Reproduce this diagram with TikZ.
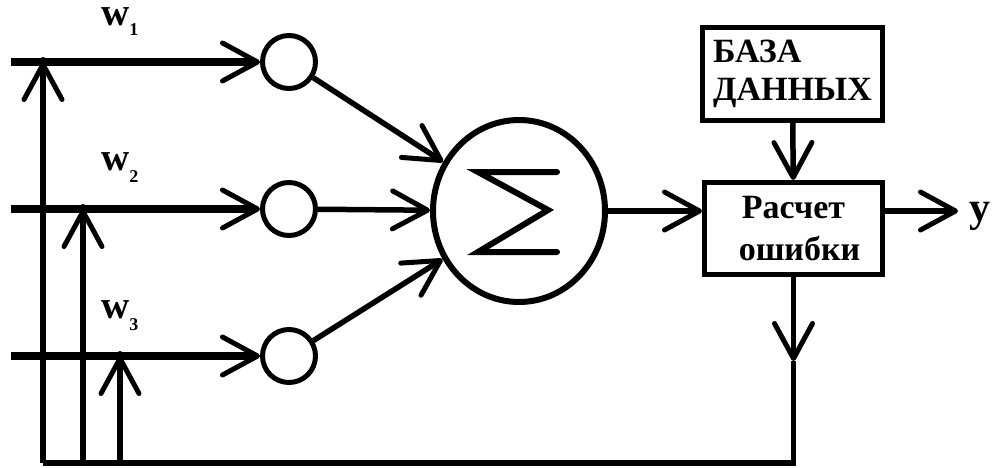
\documentclass[tikz,border=0pt]{standalone}
\usepackage{fontspec}
\setmainfont{Liberation Serif}
\usetikzlibrary{arrows.meta,shapes.geometric,calc}
\begin{document}
\begin{tikzpicture}[x=1pt,y=-1pt,
  barb/.style={-{Straight Barb[length=35pt 0,width=38pt 0,line width=5pt 0,round]}},
  inline/.style={line width=8pt},
  thinline/.style={line width=5.5pt},
  neuron/.style={circle,draw,line width=5pt,minimum size=53pt,inner sep=0pt},
  blockbox/.style={draw,line width=5pt,inner sep=0pt},
  wlabel/.style={anchor=base west,inner sep=0pt,text height=18pt,text depth=12pt,font=\bfseries\fontsize{39}{39}\selectfont},
  dot/.style={circle,fill,inner sep=0pt,minimum size=10pt}
]
\useasboundingbox (0,0) rectangle (995,468);

% coordinates
\coordinate (in1) at (11,62);
\coordinate (in2) at (11,209);
\coordinate (in3) at (11,356);
\node[dot] (j1) at (43,62) {};
\node[dot] (j2) at (83,209) {};
\node[dot] (j3) at (120,356) {};
\coordinate (b1) at (43,463);
\coordinate (b2) at (83,463);
\coordinate (b3) at (120,463);

% neurons
\node[neuron] (c1) at (289,62) {};
\node[neuron] (c2) at (289,209) {};
\node[neuron] (c3) at (289,356) {};

% summator
\node[ellipse,draw,line width=6pt,minimum width=172pt,minimum height=182pt,inner sep=0pt] (sig) at (519,211) {};
\draw[line width=6pt,line cap=round,line join=miter]
  ($(sig)+(38,-39)$) -- ($(sig)+(-41,-39)$) -- ($(sig)+(29,-1)$) -- ($(sig)+(-41,41)$) -- ($(sig)+(38,41)$);

% boxes
\node[blockbox,minimum width=180pt,minimum height=93pt,align=left,font=\bfseries\fontsize{34}{38}\selectfont] (db) at (792.5,74) {БАЗА\\ДАННЫХ};
\node[blockbox,minimum width=178pt,minimum height=92pt,align=center,font=\bfseries\fontsize{34}{42}\selectfont] (calc) at (793.5,228.5) {Расчет\\\hspace*{12pt}ошибки};

% labels
\node[wlabel] (w1) at (101,26) {w\raisebox{-10pt}{\fontsize{18}{18}\selectfont 1}};
\node[wlabel] (w2) at (101,170) {w\raisebox{-12pt}{\fontsize{18}{18}\selectfont 2}};
\node[wlabel] (w3) at (101,318) {w\raisebox{-12pt}{\fontsize{18}{18}\selectfont 3}};

% inputs
\draw[inline,barb] (in1) -- (c1);
\draw[inline,barb] (in2) -- (c2);
\draw[inline,barb] (in3) -- (c3);

% neurons to summator
\draw[thinline,barb] (c1) -- (sig);
\draw[thinline,barb] (c2) -- (sig);
\draw[thinline,barb] (c3) -- (sig);

% summator to error block
\draw[thinline,barb] (sig) -- (sig -| calc.west);
\draw[thinline,barb] (db) -- (calc);

% output
\coordinate (out) at (958,211);
\draw[thinline,barb] (calc.east |- sig) -- (out);
\node[anchor=base west,inner sep=0pt,font=\bfseries\fontsize{42}{42}\selectfont] (y) at (969,221) {y};

% feedback
\coordinate (fb) at ($(calc.south)+(0,84)$);
\coordinate (bR) at (calc.south |- b1);
\draw[thinline,barb] (calc.south) -- (fb);
\draw[thinline,line join=miter] (fb) -- (bR) -- (b1);
\draw[thinline,barb] (b1) -- (j1.center);
\draw[thinline,barb] (b2) -- (j2.center);
\draw[thinline,barb] (b3) -- (j3.center);
\end{tikzpicture}
\end{document}
